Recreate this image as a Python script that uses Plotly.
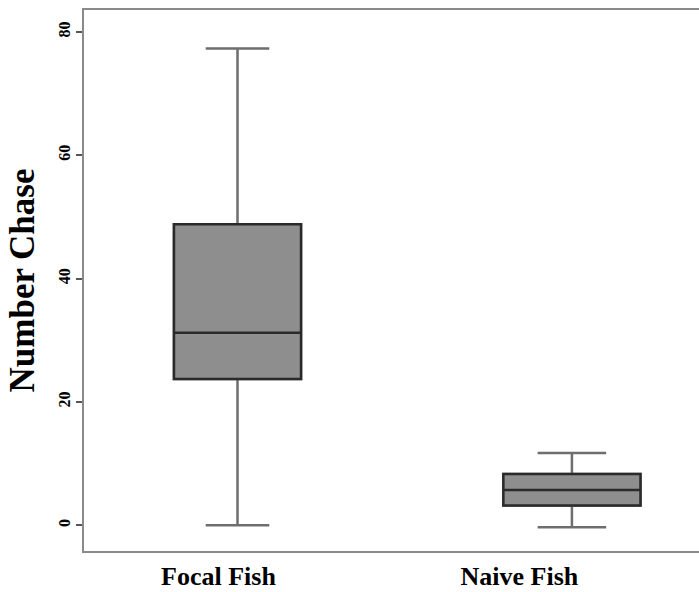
import plotly.graph_objects as go

# Summary statistics per group
categories = ["Focal Fish", "Naive Fish"]
positions = [0, 1]
label_positions = [-0.057, 0.843]
lower_whisker = [0.0, -0.3]
q1_values = [23.7, 3.2]
median_values = [31.2, 5.7]
q3_values = [48.8, 8.3]
upper_whisker = [77.3, 11.7]
box_widths = [0.38, 0.41]

y_ticks = [0, 20, 40, 60, 80]

FONT = "Liberation Serif, Times New Roman, serif"
FILL = "#8e8e8e"

fig = go.Figure()

for i, cat in enumerate(categories):
    # whiskers + caps in mid grey
    fig.add_trace(go.Box(
        x=[positions[i]], q1=[q1_values[i]], median=[median_values[i]], q3=[q3_values[i]],
        lowerfence=[lower_whisker[i]], upperfence=[upper_whisker[i]],
        width=box_widths[i], whiskerwidth=0.5, name=cat,
        fillcolor=FILL, line=dict(color="#6e6e6e", width=2.5),
        boxpoints=False, showlegend=False, hoverinfo="skip",
    ))
    # box outline and median in near-black on top
    fig.add_trace(go.Box(
        x=[positions[i]], q1=[q1_values[i]], median=[median_values[i]], q3=[q3_values[i]],
        lowerfence=[q1_values[i]], upperfence=[q3_values[i]],
        width=box_widths[i], whiskerwidth=0.5, name=cat,
        fillcolor=FILL, line=dict(color="#2a2a2a", width=2.5),
        boxpoints=False, showlegend=False, hoverinfo="skip",
    ))

fig.update_layout(
    width=699, height=592,
    margin=dict(l=84, r=0, t=10, b=41),
    paper_bgcolor="white", plot_bgcolor="white",
    boxmode="overlay",
    font=dict(family=FONT, color="black"),
    xaxis=dict(
        type="linear", automargin=False,
        range=[-0.459, 1.380],
        tickvals=label_positions, ticktext=categories,
        showline=True, linecolor="#8a8a8a", linewidth=2, mirror=True,
        showgrid=False, zeroline=False, ticks="",
        ticklabelstandoff=1,
        tickfont=dict(family=FONT, size=26, weight="bold", color="black"),
    ),
    yaxis=dict(
        automargin=False,
        range=[-4.17, 83.54],
        tickvals=y_ticks, ticktext=[str(v) for v in y_ticks],
        tickangle=-90,
        showline=True, linecolor="#8a8a8a", linewidth=2, mirror=False,
        showgrid=False, zeroline=False,
        ticks="outside", ticklen=6, tickwidth=2, tickcolor="#555555",
        tickfont=dict(family=FONT, size=16, weight="bold", color="black"),
        title=dict(text="Number Chase", standoff=10,
                   font=dict(family=FONT, size=35, weight="bold", color="black")),
    ),
)

fig.write_html("out.html")
